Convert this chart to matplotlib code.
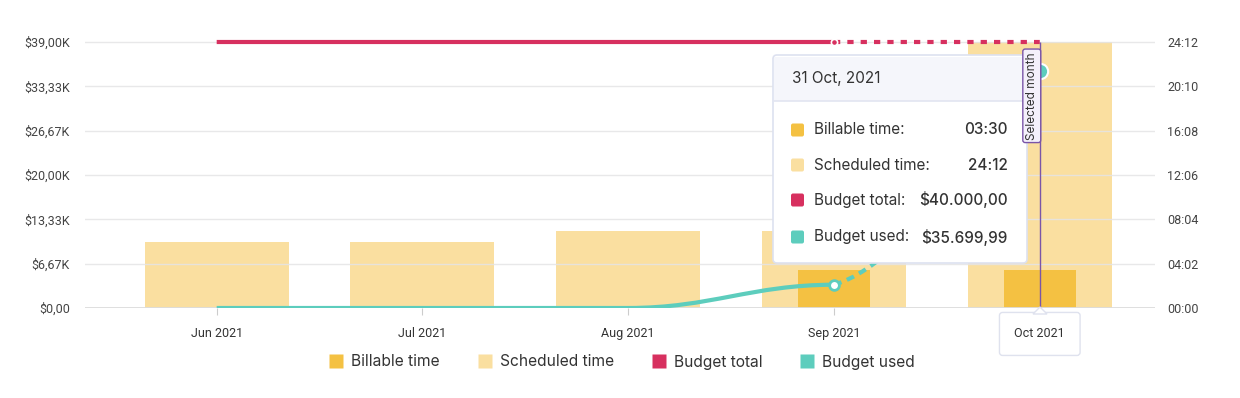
import matplotlib
matplotlib.use("Agg")
import matplotlib.pyplot as plt
import numpy as np
from matplotlib.path import Path
from matplotlib.patches import PathPatch, FancyBboxPatch, Rectangle, Polygon
from matplotlib.lines import Line2D
from matplotlib.transforms import IdentityTransform, offset_copy

# data
months = ["Jun 2021", "Jul 2021", "Aug 2021", "Sep 2021", "Oct 2021"]
scheduled_hours = [6.0, 6.0, 7.0, 7.0, 24.2]
billable_hours = [0.0, 0.0, 0.0, 3.5, 3.5]
budget_total = [40000, 40000, 40000, 40000, 40000]
budget_used = [0, 0, 0, 3500, 35699.99]

money_labels = ["$0,00", "$6,67K", "$13,33K", "$20,00K", "$26,67K", "$33,33K", "$39,00K"]
time_labels = ["00:00", "04:02", "08:04", "12:06", "16:08", "20:10", "24:12"]
money_max = 40000
time_max = 24.2

tooltip_title = "31 Oct, 2021"
tooltip_rows = [("Billable time:", "03:30"), ("Scheduled time:", "24:12"),
                ("Budget total:", "$40.000,00"), ("Budget used:", "$35.699,99")]

C_BILL = "#F4C142"
C_SCHED = "#FADFA0"
C_TOTAL = "#D7305F"
C_USED = "#5DCDBD"
C_SEL = "#7A55A8"
TXT = "#333333"

W, H = 1240, 398
fig = plt.figure(figsize=(W / 100, H / 100), dpi=100)
ax_left, ax_right, ax_top, ax_bot = 85, 1155, 30, 308
ax = fig.add_axes([ax_left / W, 1 - ax_bot / H, (ax_right - ax_left) / W, (ax_bot - ax_top) / H])
ax2 = ax.twinx()

x = np.arange(len(months))
ratio = (ax_bot - ax_top) / (ax_bot - 42)

# bars (hours axis)
ax.bar(x, scheduled_hours, width=0.7, color=C_SCHED, zorder=1)
ax.bar(x, billable_hours, width=0.35, color=C_BILL, zorder=2)
ax.set_ylim(0, time_max * ratio)
ax.set_xlim(-0.64, 4.56)
ax.yaxis.tick_right()
ax.set_yticks(np.linspace(0, time_max, len(time_labels)))
ax.set_yticklabels(time_labels)
ax.set_xticks(x)
ax.set_xticklabels(months)

# lines (money axis)
ax2.set_ylim(0, money_max * ratio)
ax2.yaxis.tick_left()
ax2.set_yticks(np.linspace(0, money_max, len(money_labels)))
ax2.set_yticklabels(money_labels)
ax2.set_axisbelow(True)
ax2.grid(axis="y", color="#e4e4e6", lw=1, alpha=0.85)
ax2.axhline(0, color="#dcdcdc", lw=2, zorder=1)


def spline_path(xs, ys, first=0, flat_end=False):
    # smoothed line with control points like a "spline" series
    n = len(xs)
    left, right = [None] * n, [None] * n
    for i in range(1, n - 1):
        lx, ly = (1.5 * xs[i] + xs[i - 1]) / 2.5, (1.5 * ys[i] + ys[i - 1]) / 2.5
        rx, ry = (1.5 * xs[i] + xs[i + 1]) / 2.5, (1.5 * ys[i] + ys[i + 1]) / 2.5
        corr = (ry - ly) * (rx - xs[i]) / (rx - lx) + ys[i] - ry
        ly += corr
        ry += corr
        lo, hi = min(ys[i - 1], ys[i]), max(ys[i - 1], ys[i])
        if ly > hi:
            ly = hi; ry = 2 * ys[i] - ly
        elif ly < lo:
            ly = lo; ry = 2 * ys[i] - ly
        lo, hi = min(ys[i], ys[i + 1]), max(ys[i], ys[i + 1])
        if ry > hi:
            ry = hi; ly = 2 * ys[i] - ry
        elif ry < lo:
            ry = lo; ly = 2 * ys[i] - ry
        left[i], right[i] = (lx, ly), (rx, ry)
    if flat_end:
        left[-1] = ((1.5 * xs[-1] + xs[-2]) / 2.5, ys[-1])
    verts = [(xs[first], ys[first])]
    codes = [Path.MOVETO]
    for i in range(first, n - 1):
        c1 = right[i] or (xs[i], ys[i])
        c2 = left[i + 1] or (xs[i + 1], ys[i + 1])
        verts += [c1, c2, (xs[i + 1], ys[i + 1])]
        codes += [Path.CURVE4] * 3
    return Path(verts, codes)


xs = x.astype(float)
for ys, col, dash, ms, mfc in [(np.array(budget_total, float), C_TOTAL, (0, (1.5, 1.7)), 4.5, C_TOTAL),
                               (np.array(budget_used, float), C_USED, (0, (1.9, 1.4)), 7, "white")]:
    ax2.add_patch(PathPatch(spline_path(xs[:4], ys[:4], flat_end=True), fill=False, ec=col,
                            lw=3, capstyle="butt", zorder=3))
    ax2.add_patch(PathPatch(spline_path(xs, ys, first=3), fill=False, ec=col, lw=3,
                            linestyle=dash, capstyle="butt", zorder=3))
    ax2.plot(xs[3], ys[3], "o", ms=ms, mfc=mfc, mec="white" if mfc != "white" else col,
             mew=1.2 if mfc != "white" else 2, zorder=4)

ax2.plot(xs[4], budget_used[4], "o", ms=11, mfc=C_USED, mec="white", mew=1.5, zorder=4)
ax2.vlines(xs[4], 0, budget_total[4], color=C_SEL, lw=1, zorder=4)

for a in (ax, ax2):
    for s in a.spines.values():
        s.set_visible(False)
ax.tick_params(axis="x", length=5, color="#cccccc", pad=9, labelsize=9, labelcolor=TXT)
ax.tick_params(axis="y", length=0, pad=9, labelsize=9, labelcolor="#444444")
ax2.tick_params(axis="y", length=0, pad=11, labelsize=9, labelcolor="#444444")
ax2.tick_params(axis="x", length=0, labelbottom=False)
for lab in ax.get_xticklabels() + ax.get_yticklabels() + ax2.get_yticklabels():
    lab.set_family("Roboto")

sel_lab = ax.get_xticklabels()[-1]
sel_lab.set_bbox(dict(boxstyle="round,pad=1.2,rounding_size=0.25", fc="white",
                      ec="#dfe2ee", lw=1))

# pixel-space helpers for overlay
px = IdentityTransform()


def P(xp, yp):
    return (xp, H - yp)


fig.add_artist(Polygon([P(1033, 314), P(1040, 307), P(1047, 314)], closed=True,
                       fc="white", ec="#dfe2ee", lw=1, transform=px, zorder=6))

# tooltip
tx0, tx1, ty0, ty1 = 773, 1027, 55, 263
fig.add_artist(FancyBboxPatch(P(tx0, ty1), tx1 - tx0, ty1 - ty0,
                              boxstyle="round,pad=0,rounding_size=4", fc="white",
                              ec="#dde1f0", lw=1.2, transform=px, zorder=3))
fig.add_artist(Rectangle(P(tx0 + 1, 101), tx1 - tx0 - 2, 101 - ty0 - 2, fc="#f5f6fb",
                         ec="none", transform=px, zorder=3))
fig.add_artist(Line2D([tx0 + 1, tx1 - 1], [H - 101, H - 101], color="#e2e5f1", lw=1.2,
                      transform=px, zorder=3))
fig.text(*P(792, 79), tooltip_title, transform=px, fontsize=11, color=TXT,
         family="Inter", va="center", ha="left", zorder=4)
row_y = [130, 165, 200, 237]
for (lab, val), yy, col in zip(tooltip_rows, row_y, [C_BILL, C_SCHED, C_TOTAL, C_USED]):
    fig.add_artist(FancyBboxPatch(P(791, yy + 6.5), 13, 13,
                                  boxstyle="round,pad=0,rounding_size=2", fc=col,
                                  ec="none", transform=px, zorder=4))
    fig.text(*P(814, yy), lab, transform=px, fontsize=11, color=TXT, family="Inter",
             va="center", ha="left", zorder=4)
    fig.text(*P(1008, yy), val, transform=px, fontsize=11, color=TXT, family="Inter",
             va="center", ha="right", zorder=4, fontweight="medium")

# selected month tag
fig.text(xs[4], budget_total[4], "Selected month",
         transform=offset_copy(ax2.transData, fig=fig, x=-2, y=-10, units="dots"),
         rotation=90, ha="right", va="top", fontsize=8.5, color=TXT, family="Inter",
         zorder=5,
         bbox=dict(boxstyle="round,pad=0.25,rounding_size=0.2", fc="#f4f0fb", ec=C_SEL, lw=1))

# legend
handles = [Line2D([], [], ls="none", marker="s", ms=9.5, mfc=c, mec="none")
           for c in [C_BILL, C_SCHED, C_TOTAL, C_USED]]
leg = fig.legend(handles, ["Billable time", "Scheduled time", "Budget total", "Budget used"],
                 loc="center", bbox_to_anchor=(0.502, 1 - 362 / H), ncol=4, frameon=False,
                 handlelength=0.8, handletextpad=0.55, columnspacing=2.5,
                 prop={"family": "Inter", "size": 11.2})
for tx in leg.get_texts():
    tx.set_color(TXT)

fig.savefig("out.png", dpi=100)
